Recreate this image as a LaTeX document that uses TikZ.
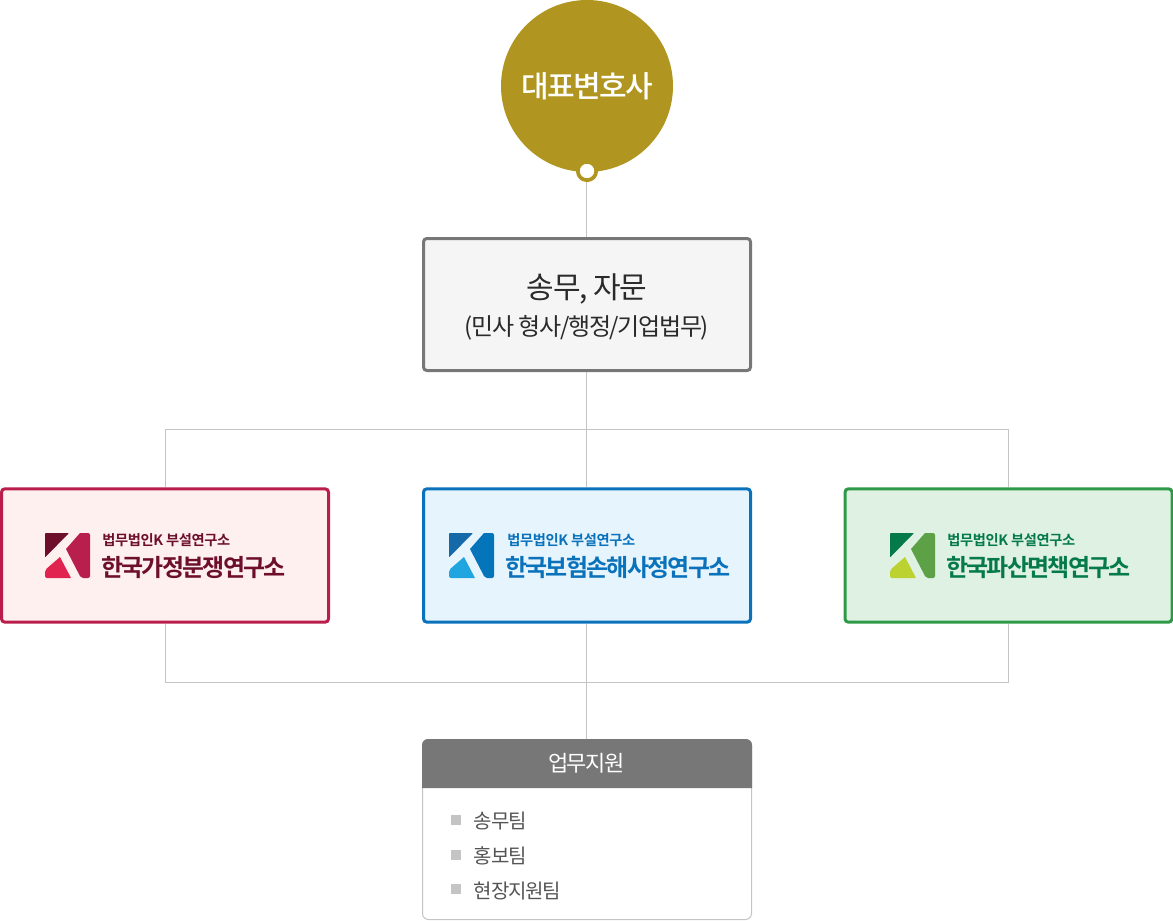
\documentclass[tikz,border=0pt]{standalone}
\usepackage{fontspec}
\setmainfont{Noto Sans CJK KR}
\newfontfamily\krtight[LetterSpace=-4.5]{Noto Sans CJK KR}
\newfontfamily\kritem[LetterSpace=-5.5]{Noto Sans CJK KR}
\newfontfamily\krceo[LetterSpace=-5,BoldFont={Noto Sans CJK KR Medium}]{Noto Sans CJK KR}
\newfontfamily\krlong[LetterSpace=-5.5]{Noto Sans CJK KR}
\newfontfamily\krhead[LetterSpace=-6]{Noto Sans CJK KR}
\newfontfamily\krtitle[LetterSpace=-7.3,BoldFont={Noto Sans CJK KR Bold}]{Noto Sans CJK KR}
\newfontfamily\krsub[LetterSpace=-2.5,BoldFont={Noto Sans CJK KR Bold}]{Noto Sans CJK KR}
\definecolor{gold}{HTML}{B09620}
\definecolor{graybd}{HTML}{777777}
\definecolor{graybg}{HTML}{F5F5F5}
\definecolor{linec}{HTML}{C4C4C4}
\definecolor{txt}{HTML}{2A2A2A}
\definecolor{txtg}{HTML}{555555}
\definecolor{pkbd}{HTML}{B81D4B}\definecolor{pkbg}{HTML}{FFF0F0}
\definecolor{pka}{HTML}{6D0F2B}\definecolor{pkb}{HTML}{E0234F}\definecolor{pkc}{HTML}{B81F4C}
\definecolor{blbd}{HTML}{0A72BB}\definecolor{blbg}{HTML}{E6F4FD}
\definecolor{bla}{HTML}{1569A8}\definecolor{blb}{HTML}{1FA6E0}\definecolor{blc}{HTML}{0575BB}
\definecolor{grbd}{HTML}{2E9A48}\definecolor{grbg}{HTML}{DFF1E3}
\definecolor{gra}{HTML}{047A4A}\definecolor{grb}{HTML}{BCD230}\definecolor{grc}{HTML}{5CA145}
\tikzset{
 orgbox/.style={draw=#1,line width=2.25pt,rounded corners=2.5pt,minimum width=245.25pt,minimum height=100pt,inner sep=0pt},
 conn/.style={draw=linec,line width=0.75pt},
 subt/.style={anchor=base west,inner sep=0pt,font=\krsub\bfseries\fontsize{10.7}{12}\selectfont},
 titl/.style={anchor=base west,inner sep=0pt,font=\krtitle\bfseries\fontsize{18}{22}\selectfont},
 item/.style={anchor=base west,inner sep=0pt,text=txtg,font=\kritem\fontsize{15}{18}\selectfont},
 bul/.style={fill=linec,draw=none,minimum size=7.5pt,inner sep=0pt},
}
\newcommand\klogo[4]{%
 \begin{scope}[shift={(#1,533)}]
  \fill[#2,rounded corners=0.6pt] (0,0) -- (24,0) -- (0,24.5) -- cycle;
  \fill[#3] (15,24) -- (26,45) -- (2,45) [rounded corners=1.5pt] -- (0,45) -- (0,37) [sharp corners] -- cycle;
  \fill[#4,rounded corners=1.5pt] (35,0) -- (45,0) -- (45,45) -- (36,45) [sharp corners] -- (21,16) -- cycle;
 \end{scope}}
\begin{document}
\begin{tikzpicture}[x=0.75pt,y=-0.75pt]
\useasboundingbox (0,0) rectangle (1173,920);
% nodes
\node[circle,fill=gold,minimum size=129pt,inner sep=0pt,text=white,font=\krceo\bfseries\fontsize{22.5}{27}\selectfont] (ceo) at (587,86) {대표변호사};
\node[circle,fill=white,draw=gold,line width=2.8pt,minimum size=13.8pt,inner sep=0pt] (ring) at (587,171) {};
\node[orgbox=graybd,fill=graybg,minimum height=99pt] (advice) at (587,304.5) {};
\node[align=center,text=txt,inner sep=0pt] (advicetext) at (587,306.5)
 {\krtight\fontsize{22.5}{30}\selectfont 송무, 자문\\[7.5pt]\krlong\fontsize{18}{24}\selectfont (민사 형사/행정/기업법무)};
\node[orgbox=pkbd,fill=pkbg] (family) at (165,555.5) {};
\node[orgbox=blbd,fill=blbg] (damage) at (587,555.5) {};
\node[orgbox=grbd,fill=grbg] (bankrupt) at (1008.5,555.5) {};
\node[draw=linec,line width=0.75pt,fill=white,rounded corners=4.5pt,minimum width=246.75pt,minimum height=135pt,inner sep=0pt] (support) at (587,829.5) {};
\fill[graybd] (422,788) [rounded corners=4.5pt] -- (422,739) -- (752,739) [sharp corners] -- (752,788) -- cycle;
\node[text=white,inner sep=0pt,font=\krhead\fontsize{16.5}{20}\selectfont] (head) at (586.5,763.5) {업무지원};
% hubs
\coordinate (hubt) at (586.5,429.5);
\coordinate (hubb) at (586.5,682.5);
% connectors
\draw[conn] ([xshift=-0.375pt]ring.south) -- ([xshift=-0.375pt]advice.north);
\draw[conn] ([xshift=-0.375pt]advice.south) -- (hubt) -- ([xshift=-0.375pt]damage.north);
\draw[conn] ([xshift=-0.375pt]damage.south) -- (hubb) -- ([xshift=-0.375pt]support.north);
\draw[conn] (hubt) -| ([xshift=0.375pt]family.north);
\draw[conn] ([xshift=0.375pt]family.south) |- (hubb);
\draw[conn] (hubt) -| (bankrupt.north);
\draw[conn] (bankrupt.south) |- (hubb);
% logos
\klogo{45}{pka}{pkb}{pkc}
\klogo{449}{bla}{blb}{blc}
\klogo{890}{gra}{grb}{grc}
% logo texts
\node[subt,text=pka] (s1) at (102,545) {법무법인K 부설연구소};
\node[titl,text=pka] (t1) at (101,576) {한국가정분쟁연구소};
\node[subt,text=blbd] (s2) at (507,545) {법무법인K 부설연구소};
\node[titl,text=blbd] (t2) at (505,576) {한국보험손해사정연구소};
\node[subt,text=gra] (s3) at (947,545) {법무법인K 부설연구소};
\node[titl,text=gra] (t3) at (946,576) {한국파산면책연구소};
% list
\node[bul] (b1) at (456,820) {};
\node[bul] (b2) at (456,855) {};
\node[bul] (b3) at (456,889) {};
\node[item] (i1) at (473.5,828) {송무팀};
\node[item] (i2) at (473.5,863) {홍보팀};
\node[item] (i3) at (473.5,898) {현장지원팀};
\end{tikzpicture}
\end{document}
